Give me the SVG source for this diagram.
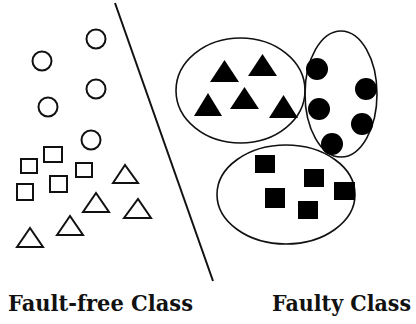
<svg xmlns="http://www.w3.org/2000/svg" width="416" height="324" viewBox="0 0 416 324">
<style>
.o{fill:none;stroke:#111;stroke-width:2}
.f{fill:#000;stroke:none}
.e{fill:none;stroke:#111;stroke-width:1.6}
</style>
<rect width="416" height="324" fill="#fff"/>
<g id="connectors">
<line x1="115" y1="3" x2="213" y2="281" stroke="#111" stroke-width="2"/>
</g>
<g id="fault-free">
<circle class="o" cx="96" cy="39" r="9.5"/>
<circle class="o" cx="42" cy="61" r="9.5"/>
<circle class="o" cx="96" cy="89" r="9.5"/>
<circle class="o" cx="48" cy="107" r="9.5"/>
<circle class="o" cx="91" cy="140" r="9.5"/>
<rect class="o" x="44" y="147" width="18" height="15"/>
<rect class="o" x="21" y="159" width="16" height="14"/>
<rect class="o" x="76" y="163" width="16" height="14"/>
<rect class="o" x="50" y="176" width="17" height="16"/>
<rect class="o" x="17" y="184" width="16" height="16"/>
<polygon class="o" points="113,183 125,165 138,183"/>
<polygon class="o" points="83,212 96,193 109,212"/>
<polygon class="o" points="124,218 138,199 151,218"/>
<polygon class="o" points="57,235 70,216 83,235"/>
<polygon class="o" points="17,247 30,228 43,247"/>
</g>
<g id="cluster-triangles">
<ellipse class="e" cx="240.5" cy="90.5" rx="64.5" ry="52.5"/>
<polygon class="f" points="210,82 224.5,60 239,82"/>
<polygon class="f" points="248,76 262.5,54 277,76"/>
<polygon class="f" points="194,116 208,93 222,116"/>
<polygon class="f" points="230,109 244.5,87 259,109"/>
<polygon class="f" points="269,118 283.5,95 298,118"/>
</g>
<g id="cluster-circles">
<ellipse class="e" cx="341" cy="94" rx="36" ry="63"/>
<circle class="f" cx="317" cy="69" r="11"/>
<circle class="f" cx="366" cy="89" r="11"/>
<circle class="f" cx="319" cy="109" r="11"/>
<circle class="f" cx="362" cy="124" r="11"/>
<circle class="f" cx="332" cy="144" r="11"/>
</g>
<g id="cluster-squares">
<ellipse class="e" cx="286" cy="194.5" rx="69" ry="49.5"/>
<rect class="f" x="255" y="155" width="20" height="18"/>
<rect class="f" x="304" y="169" width="20" height="18"/>
<rect class="f" x="334" y="182" width="21" height="18"/>
<rect class="f" x="265" y="188" width="20" height="20"/>
<rect class="f" x="298" y="201" width="20" height="18"/>
</g>
<g id="labels" font-family="'DejaVu Serif', 'Liberation Serif', serif" font-weight="bold" font-size="22" fill="#111">
<text x="8" y="311" textLength="185" lengthAdjust="spacingAndGlyphs">Fault-free Class</text>
<text x="411" y="311" text-anchor="end" textLength="139" lengthAdjust="spacingAndGlyphs">Faulty Class</text>
</g>
</svg>
